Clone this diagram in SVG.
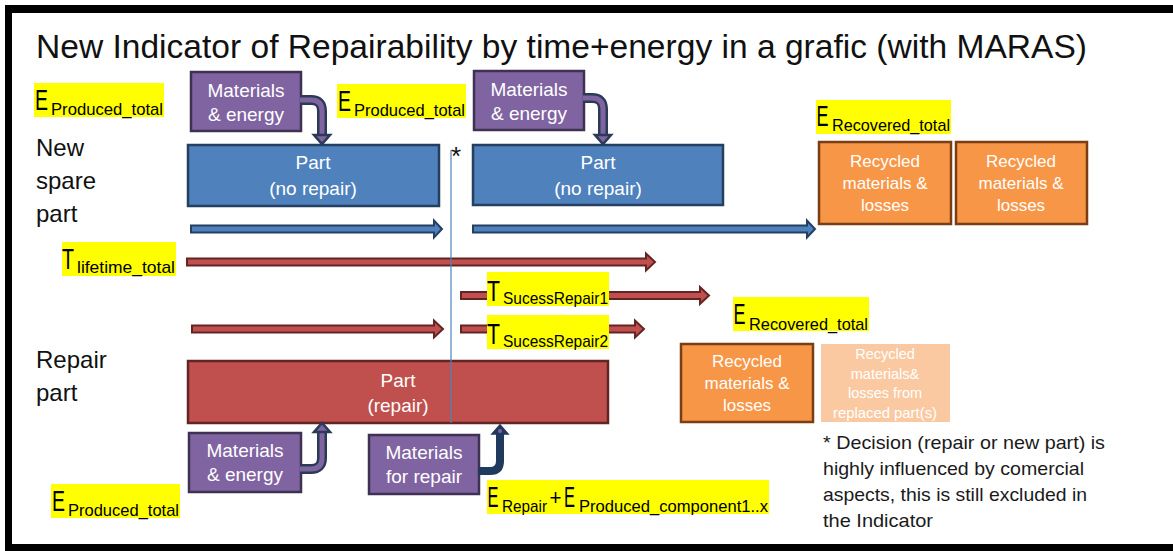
<svg xmlns="http://www.w3.org/2000/svg" width="1173" height="551" viewBox="0 0 1173 551">
  <style>
    .frame { fill: #000; }
    .title { font-family: "Liberation Sans", Arial, sans-serif; font-size: 33px; fill: #111; }
    .side { font-family: "Liberation Sans", Arial, sans-serif; font-size: 24px; fill: #111; }
    .note { font-family: "Liberation Sans", Arial, sans-serif; font-size: 19px; fill: #1a1a1a; }
    .box-txt { font-family: "Liberation Sans", Arial, sans-serif; font-size: 19px; fill: #fff; text-anchor: middle; }
    .rec-txt { font-family: "Liberation Sans", Arial, sans-serif; font-size: 17px; fill: #fff; text-anchor: middle; }
    .pale-txt { font-family: "Liberation Sans", Arial, sans-serif; font-size: 14.5px; fill: #fff; text-anchor: middle; }
    .purple { fill: #8064A2; stroke: #3F3151; stroke-width: 2.5; }
    .blue { fill: #4F81BD; stroke: #243F60; stroke-width: 2.5; }
    .red { fill: #C0504D; stroke: #632523; stroke-width: 2.5; }
    .orange { fill: #F79646; stroke: #7A3D14; stroke-width: 2.5; }
    .pale { fill: #FAC9A1; }
    .hl { fill: #FFFF00; }
    .qty { font-family: "Liberation Sans", Arial, sans-serif; fill: #000; }
    .big { font-size: 29px; }
    .plus { font-size: 22px; }
    .sub { font-size: 17px; }
    .arr-blue { fill: #4F81BD; stroke: #243F60; stroke-width: 2; stroke-linejoin: miter; }
    .arr-red { fill: #C0504D; stroke: #632523; stroke-width: 2; stroke-linejoin: miter; }
    .bend-out { fill: none; stroke: #2B3A57; stroke-width: 10; }
    .bend-in { fill: none; stroke: #8064A2; stroke-width: 5; }
    .bend-head { fill: #8064A2; stroke: #2B3A57; stroke-width: 2.5; stroke-linejoin: miter; }
    .bend-dark { fill: none; stroke: #1F3A5C; stroke-width: 8; }
    .head-dark { fill: #1F3A5C; stroke: #1F3A5C; stroke-width: 1.5; }
    .divider { stroke: #4F81BD; stroke-width: 1.2; }
  </style>

  <!-- slide frame (open on the right) -->
  <rect class="frame" x="5" y="5" width="1168" height="8"/>
  <rect class="frame" x="5" y="5" width="7" height="546"/>
  <rect class="frame" x="5" y="544" width="1168" height="7"/>

  <text class="title" x="36" y="58" textLength="1051" lengthAdjust="spacingAndGlyphs">New Indicator of Repairability by time+energy in a grafic (with MARAS)</text>

  <!-- row captions -->
  <g id="caption-new">
    <text class="side" x="36" y="156">New</text>
    <text class="side" x="36" y="189">spare</text>
    <text class="side" x="36" y="222">part</text>
  </g>
  <g id="caption-repair">
    <text class="side" x="36" y="368">Repair</text>
    <text class="side" x="36" y="401">part</text>
  </g>

  <!-- nodes -->
  <g id="mat-energy-1">
    <rect class="purple" x="191" y="72" width="110" height="59"/>
    <text class="box-txt" x="246" y="97">Materials</text>
    <text class="box-txt" x="246" y="121">&amp; energy</text>
  </g>
  <g id="mat-energy-2">
    <rect class="purple" x="474" y="71" width="110" height="59"/>
    <text class="box-txt" x="529" y="96">Materials</text>
    <text class="box-txt" x="529" y="120">&amp; energy</text>
  </g>
  <g id="part-new-1">
    <rect class="blue" x="188" y="145" width="251" height="61"/>
    <text class="box-txt" x="313" y="169">Part</text>
    <text class="box-txt" x="313" y="195">(no repair)</text>
  </g>
  <g id="part-new-2">
    <rect class="blue" x="473" y="145" width="250" height="60"/>
    <text class="box-txt" x="598" y="169">Part</text>
    <text class="box-txt" x="598" y="195">(no repair)</text>
  </g>
  <g id="recycled-1">
    <rect class="orange" x="819" y="142" width="132" height="82"/>
    <text class="rec-txt" x="885" y="167">Recycled</text>
    <text class="rec-txt" x="885" y="189">materials &amp;</text>
    <text class="rec-txt" x="885" y="211">losses</text>
  </g>
  <g id="recycled-2">
    <rect class="orange" x="956" y="142" width="131" height="82"/>
    <text class="rec-txt" x="1021" y="167">Recycled</text>
    <text class="rec-txt" x="1021" y="189">materials &amp;</text>
    <text class="rec-txt" x="1021" y="211">losses</text>
  </g>
  <g id="part-repair">
    <rect class="red" x="188" y="361" width="420" height="62"/>
    <text class="box-txt" x="398" y="387">Part</text>
    <text class="box-txt" x="398" y="412">(repair)</text>
  </g>
  <g id="recycled-3">
    <rect class="orange" x="681" y="344" width="132" height="78"/>
    <text class="rec-txt" x="747" y="367">Recycled</text>
    <text class="rec-txt" x="747" y="389">materials &amp;</text>
    <text class="rec-txt" x="747" y="411">losses</text>
  </g>
  <g id="recycled-replaced">
    <rect class="pale" x="821" y="344" width="129" height="78"/>
    <text class="pale-txt" x="885" y="359">Recycled</text>
    <text class="pale-txt" x="885" y="379">materials&amp;</text>
    <text class="pale-txt" x="885" y="398">losses from</text>
    <text class="pale-txt" x="885" y="418" textLength="104" lengthAdjust="spacingAndGlyphs">replaced part(s)</text>
  </g>
  <g id="mat-energy-3">
    <rect class="purple" x="189" y="433" width="112" height="59"/>
    <text class="box-txt" x="245" y="457">Materials</text>
    <text class="box-txt" x="245" y="481">&amp; energy</text>
  </g>
  <g id="mat-repair">
    <rect class="purple" x="369" y="435" width="110" height="59"/>
    <text class="box-txt" x="424" y="459">Materials</text>
    <text class="box-txt" x="424" y="483">for repair</text>
  </g>

  <!-- connectors -->
  <g id="connectors">
    <!-- supply arrows into the parts -->
    <path class="bend-out" d="M300 100 H311 Q322 100 322 111 V136"/>
    <path class="bend-in" d="M300 100 H311 Q322 100 322 111 V137"/>
    <polygon class="bend-head" points="314,135 330,135 322,144"/>

    <path class="bend-out" d="M583 98 H592 Q603 98 603 109 V136"/>
    <path class="bend-in" d="M583 98 H592 Q603 98 603 109 V137"/>
    <polygon class="bend-head" points="595,135 611,135 603,144"/>

    <path class="bend-out" d="M300 469 H311 Q322 469 322 458 V431"/>
    <path class="bend-in" d="M300 469 H311 Q322 469 322 458 V430"/>
    <polygon class="bend-head" points="314,432 330,432 322,423"/>

    <path class="bend-dark" d="M478 471 H490 Q500 471 500 461 V432"/>
    <polygon class="head-dark" points="492,434 508,434 500,425"/>
    <circle cx="500" cy="431" r="2" fill="#8064A2"/>

    <!-- lifetime arrows, new spare part -->
    <polygon class="arr-blue" points="191,225.5 434,225.5 434,220.5 442,229 434,237.5 434,232.5 191,232.5"/>
    <polygon class="arr-blue" points="473,225.5 807,225.5 807,220.5 815,229 807,237.5 807,232.5 473,232.5"/>

    <!-- lifetime arrows, repair part -->
    <polygon class="arr-red" points="187,258.5 646,258.5 646,253.5 655,262 646,270.5 646,265.5 187,265.5"/>
    <polygon class="arr-red" points="461,292 700,292 700,287 709,295.5 700,304 700,299 461,299"/>
    <polygon class="arr-red" points="192,325.5 434,325.5 434,320.5 443,329 434,337.5 434,332.5 192,332.5"/>
    <polygon class="arr-red" points="461,325.5 635,325.5 635,320.5 644,329 635,337.5 635,332.5 461,332.5"/>

    <!-- decision marker -->
    <line class="divider" x1="451" y1="150" x2="451" y2="423"/>
  </g>
  <text class="side" x="451" y="165" style="font-size:26px">*</text>

  <!-- highlighted quantities: large symbol with subscript in one text run -->
  <g id="label-e-produced-1">
    <rect class="hl" x="34" y="83" width="130" height="34"/>
    <text class="qty"><tspan class="big" x="35" y="110" textLength="13" lengthAdjust="spacingAndGlyphs">E</tspan><tspan class="sub" x="51" y="115" textLength="112" lengthAdjust="spacingAndGlyphs">Produced_total</tspan></text>
  </g>
  <g id="label-e-produced-2">
    <rect class="hl" x="337" y="84" width="129" height="34"/>
    <text class="qty"><tspan class="big" x="338" y="111" textLength="13" lengthAdjust="spacingAndGlyphs">E</tspan><tspan class="sub" x="354" y="116" textLength="111" lengthAdjust="spacingAndGlyphs">Produced_total</tspan></text>
  </g>
  <g id="label-e-recovered-1">
    <rect class="hl" x="816" y="100" width="135" height="34"/>
    <text class="qty"><tspan class="big" x="816.5" y="126" textLength="12" lengthAdjust="spacingAndGlyphs">E</tspan><tspan class="sub" x="832" y="131" textLength="118" lengthAdjust="spacingAndGlyphs">Recovered_total</tspan></text>
  </g>
  <g id="label-t-lifetime">
    <rect class="hl" x="62" y="242" width="114" height="34"/>
    <text class="qty"><tspan class="big" x="62" y="269" textLength="12" lengthAdjust="spacingAndGlyphs">T</tspan><tspan class="sub" x="77" y="273" textLength="98" lengthAdjust="spacingAndGlyphs">lifetime_total</tspan></text>
  </g>
  <g id="label-t-repair-1">
    <rect class="hl" x="487" y="272" width="122" height="34"/>
    <text class="qty"><tspan class="big" x="487" y="301" textLength="13" lengthAdjust="spacingAndGlyphs">T</tspan><tspan class="sub" x="503" y="304" textLength="105" lengthAdjust="spacingAndGlyphs">SucessRepair1</tspan></text>
  </g>
  <g id="label-t-repair-2">
    <rect class="hl" x="487" y="315" width="122" height="34"/>
    <text class="qty"><tspan class="big" x="487" y="344" textLength="13" lengthAdjust="spacingAndGlyphs">T</tspan><tspan class="sub" x="503" y="347" textLength="105" lengthAdjust="spacingAndGlyphs">SucessRepair2</tspan></text>
  </g>
  <g id="label-e-recovered-2">
    <rect class="hl" x="733" y="297" width="136" height="34"/>
    <text class="qty"><tspan class="big" x="733.5" y="324" textLength="12" lengthAdjust="spacingAndGlyphs">E</tspan><tspan class="sub" x="749" y="330" textLength="119" lengthAdjust="spacingAndGlyphs">Recovered_total</tspan></text>
  </g>
  <g id="label-e-produced-3">
    <rect class="hl" x="51" y="484" width="129" height="34"/>
    <text class="qty"><tspan class="big" x="52" y="511" textLength="13" lengthAdjust="spacingAndGlyphs">E</tspan><tspan class="sub" x="68" y="516" textLength="111" lengthAdjust="spacingAndGlyphs">Produced_total</tspan></text>
  </g>
  <g id="label-e-repair">
    <rect class="hl" x="487" y="480" width="282" height="34"/>
    <text class="qty"><tspan class="big" x="487.5" y="507" textLength="11" lengthAdjust="spacingAndGlyphs">E</tspan><tspan class="sub" x="502" y="512" textLength="45" lengthAdjust="spacingAndGlyphs">Repair</tspan><tspan class="plus" x="549.5" y="505" textLength="12" lengthAdjust="spacingAndGlyphs">+</tspan><tspan class="big" x="564" y="507" textLength="11" lengthAdjust="spacingAndGlyphs">E</tspan><tspan class="sub" x="579" y="512" textLength="189" lengthAdjust="spacingAndGlyphs">Produced_component1..x</tspan></text>
  </g>

  <!-- footnote -->
  <g id="footnote">
    <text class="note" x="823" y="449" textLength="282" lengthAdjust="spacingAndGlyphs">* Decision (repair or new part) is</text>
    <text class="note" x="823" y="475" textLength="261" lengthAdjust="spacingAndGlyphs">highly influenced by comercial</text>
    <text class="note" x="823" y="501" textLength="264" lengthAdjust="spacingAndGlyphs">aspects, this is still excluded in</text>
    <text class="note" x="823" y="527" textLength="110" lengthAdjust="spacingAndGlyphs">the Indicator</text>
  </g>
</svg>
